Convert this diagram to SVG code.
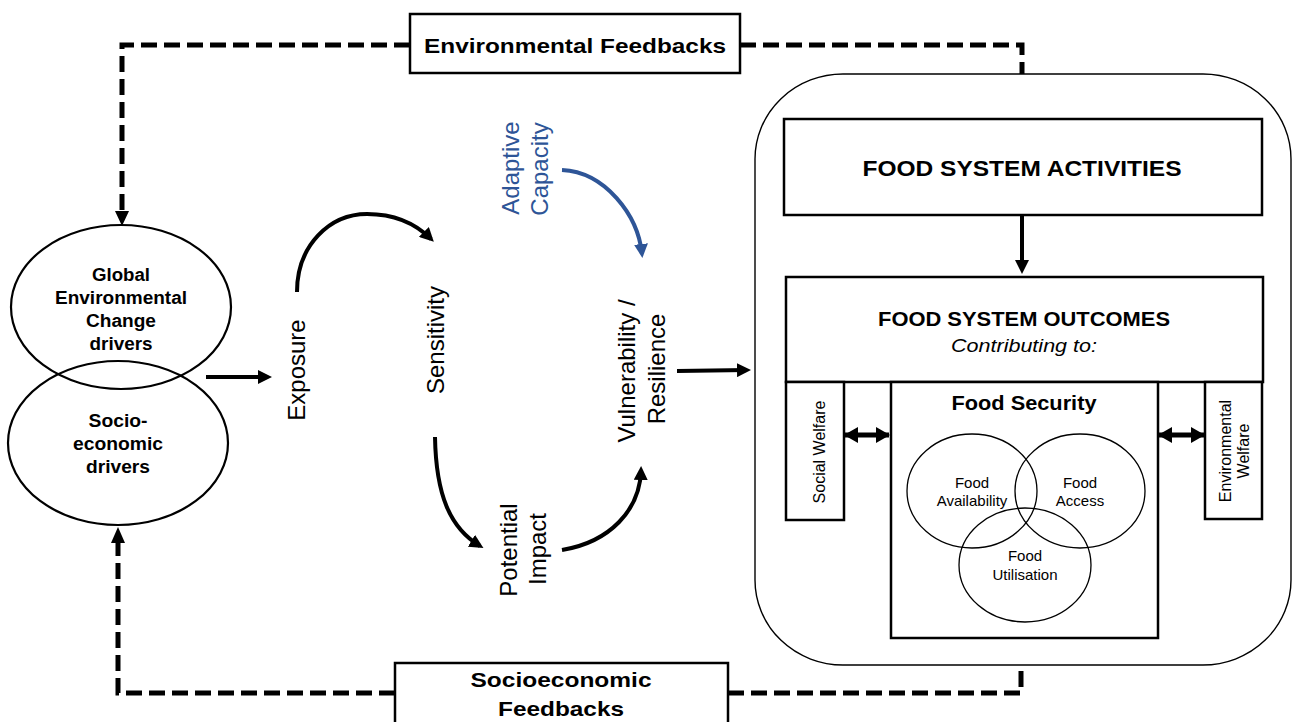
<svg xmlns="http://www.w3.org/2000/svg" width="1292" height="722" viewBox="0 0 1292 722">
  <defs>
    <style>
      text { font-family: "Liberation Sans", Arial, sans-serif; fill: #000; }
      .b { font-weight: bold; }
      .box { fill: #fff; stroke: #000; stroke-width: 2.5; }
      .ell { fill: none; stroke: #000; stroke-width: 2.2; }
      .ven { fill: none; stroke: #000; stroke-width: 1.3; }
      .dash { fill: none; stroke: #000; stroke-width: 5; stroke-dasharray: 16 7; }
      .arrow { fill: none; stroke: #000; stroke-width: 4; marker-end: url(#ah); }
      .blue { fill: none; stroke: #2E5597; stroke-width: 4; marker-end: url(#ahb); }
      .dbl { fill: none; stroke: #000; stroke-width: 5; marker-start: url(#dh); marker-end: url(#dh); }
      .rot { font-size: 24px; text-anchor: middle; }
      .mid { text-anchor: middle; }
    </style>
    <marker id="ah" markerUnits="userSpaceOnUse" markerWidth="14" markerHeight="14" refX="10" refY="7" orient="auto">
      <path d="M0,0 L14,7 L0,14 z" fill="#000"/>
    </marker>
    <marker id="ahb" markerUnits="userSpaceOnUse" markerWidth="14" markerHeight="14" refX="10" refY="7" orient="auto">
      <path d="M0,0 L14,7 L0,14 z" fill="#2E5597"/>
    </marker>
    <marker id="dh" markerUnits="userSpaceOnUse" markerWidth="14" markerHeight="16" refX="13" refY="8" orient="auto-start-reverse">
      <path d="M0,0 L14,8 L0,16 z" fill="#000"/>
    </marker>
  </defs>

  <!-- feedback loops and process arrows -->
  <g id="connectors">
    <path class="dash" d="M410,45 H122 V212"/>
    <polygon points="115,211 129,211 122,226" fill="#000"/>
    <path class="dash" d="M740,45 H1022 V74"/>
    <path class="dash" d="M395,693 H118 V542"/>
    <polygon points="111,543 125,543 118,527" fill="#000"/>
    <path class="dash" d="M728,693 H1021 V665"/>

    <path class="arrow" d="M206,377 L268,377"/>
    <path class="arrow" d="M297,292 C297,245 330,214 367,214 C398,214 418,226 431,239"/>
    <path class="arrow" d="M435,437 C436,495 450,528 480,546"/>
    <path class="arrow" d="M562,550 C610,542 640,510 641,470"/>
    <path class="blue" d="M562,170 C605,172 638,215 642,254"/>
    <path class="arrow" d="M677,371 L747,370"/>
    <path class="arrow" d="M1022,215 L1022,270"/>
    <path class="dbl" d="M845,435 H889"/>
    <path class="dbl" d="M1159,435 H1204"/>
  </g>

  <g id="env-feedbacks">
    <rect class="box" x="410" y="14" width="330" height="59"/>
    <text class="b mid" x="575" y="53" font-size="21" textLength="302" lengthAdjust="spacingAndGlyphs">Environmental Feedbacks</text>
  </g>

  <g id="socio-feedbacks">
    <rect class="box" x="395" y="663" width="333" height="64"/>
    <text class="b mid" x="561" y="687" font-size="21" textLength="181" lengthAdjust="spacingAndGlyphs">Socioeconomic</text>
    <text class="b mid" x="561" y="716" font-size="21" textLength="126" lengthAdjust="spacingAndGlyphs">Feedbacks</text>
  </g>

  <g id="gec-drivers">
    <ellipse class="ell" cx="121" cy="307" rx="110" ry="82"/>
    <text class="b mid" x="121" y="281" font-size="18" textLength="58" lengthAdjust="spacingAndGlyphs">Global</text>
    <text class="b mid" x="121" y="304" font-size="18" textLength="132" lengthAdjust="spacingAndGlyphs">Environmental</text>
    <text class="b mid" x="121" y="327" font-size="18" textLength="70" lengthAdjust="spacingAndGlyphs">Change</text>
    <text class="b mid" x="121" y="350" font-size="18" textLength="63" lengthAdjust="spacingAndGlyphs">drivers</text>
  </g>

  <g id="socio-drivers">
    <ellipse class="ell" cx="118" cy="443" rx="110" ry="82"/>
    <text class="b mid" x="118" y="427" font-size="18" textLength="59" lengthAdjust="spacingAndGlyphs">Socio-</text>
    <text class="b mid" x="118" y="450" font-size="18" textLength="90" lengthAdjust="spacingAndGlyphs">economic</text>
    <text class="b mid" x="118" y="473" font-size="18" textLength="64" lengthAdjust="spacingAndGlyphs">drivers</text>
  </g>

  <g id="exposure">
    <text class="rot" transform="translate(305,370) rotate(-90)">Exposure</text>
  </g>
  <g id="sensitivity">
    <text class="rot" transform="translate(444,340) rotate(-90)">Sensitivity</text>
  </g>
  <g id="potential-impact">
    <text class="rot" transform="translate(517,550) rotate(-90)">Potential</text>
    <text class="rot" transform="translate(546,549) rotate(-90)">Impact</text>
  </g>
  <g id="vulnerability">
    <text class="rot" transform="translate(635,371) rotate(-90)">Vulnerability /</text>
    <text class="rot" transform="translate(665,369) rotate(-90)">Resilience</text>
  </g>
  <g id="adaptive-capacity">
    <text class="rot" style="fill:#2E5597" transform="translate(519,168) rotate(-90)">Adaptive</text>
    <text class="rot" style="fill:#2E5597" transform="translate(548,169) rotate(-90)">Capacity</text>
  </g>

  <g id="food-system">
    <rect x="755" y="74" width="536" height="591" rx="88" ry="85" fill="none" stroke="#000" stroke-width="1.4"/>
  </g>

  <g id="fs-activities">
    <rect class="box" x="784" y="119" width="478" height="96"/>
    <text class="b mid" x="1022" y="176" font-size="22" textLength="319" lengthAdjust="spacingAndGlyphs">FOOD SYSTEM ACTIVITIES</text>
  </g>

  <g id="fs-outcomes">
    <rect class="box" x="786" y="277" width="477" height="105"/>
    <text class="b mid" x="1024" y="326" font-size="20" textLength="292" lengthAdjust="spacingAndGlyphs">FOOD SYSTEM OUTCOMES</text>
    <text class="mid" x="1024" y="352" font-size="19" font-style="italic" textLength="146" lengthAdjust="spacingAndGlyphs">Contributing to:</text>
  </g>

  <g id="social-welfare">
    <rect class="box" x="786" y="382" width="58" height="138"/>
    <text class="mid" font-size="16" transform="translate(825,452) rotate(-90)">Social Welfare</text>
  </g>

  <g id="environmental-welfare">
    <rect class="box" x="1205" y="382" width="57" height="137"/>
    <text class="mid" font-size="16" transform="translate(1231,451) rotate(-90)">Environmental</text>
    <text class="mid" font-size="16" transform="translate(1249,451) rotate(-90)">Welfare</text>
  </g>

  <g id="food-security">
    <rect class="box" x="891" y="382" width="267" height="256"/>
    <text class="b mid" x="1024" y="410" font-size="20" textLength="145" lengthAdjust="spacingAndGlyphs">Food Security</text>
  </g>

  <g id="food-availability">
    <ellipse class="ven" cx="972" cy="491" rx="65" ry="57"/>
    <text class="mid" x="972" y="488" font-size="15">Food</text>
    <text class="mid" x="972" y="506" font-size="15">Availability</text>
  </g>
  <g id="food-access">
    <ellipse class="ven" cx="1080" cy="491" rx="65" ry="57"/>
    <text class="mid" x="1080" y="488" font-size="15">Food</text>
    <text class="mid" x="1080" y="506" font-size="15">Access</text>
  </g>
  <g id="food-utilisation">
    <ellipse class="ven" cx="1025" cy="565" rx="66" ry="57"/>
    <text class="mid" x="1025" y="561" font-size="15">Food</text>
    <text class="mid" x="1025" y="580" font-size="15">Utilisation</text>
  </g>
</svg>
